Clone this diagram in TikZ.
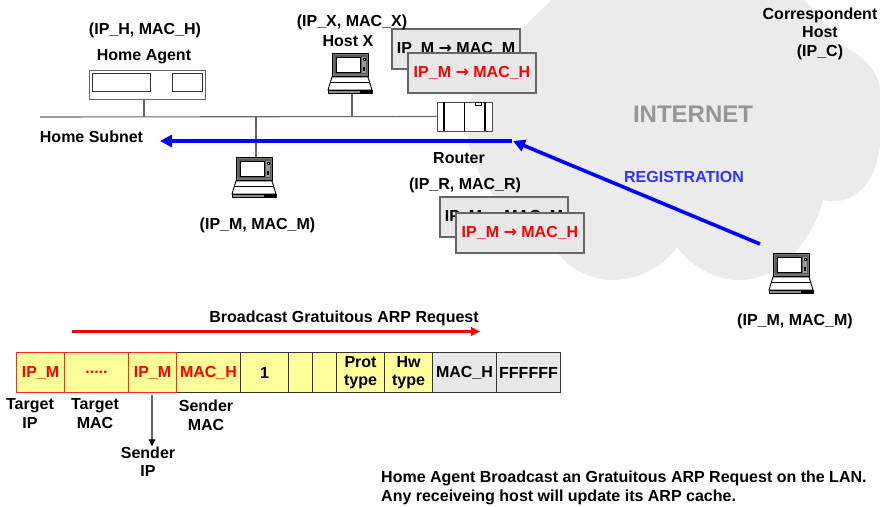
\documentclass[tikz,border=0pt]{standalone}
\usepackage{fontspec}
\setmainfont{Liberation Sans}[BoldFont={Liberation Sans Bold}]
\newfontfamily\arrowfont{DejaVu Sans}[BoldFont={DejaVu Sans Bold}]
\newcommand{\rarr}{{\arrowfont\bfseries →}}
\usetikzlibrary{arrows.meta}
\definecolor{cloudgrey}{HTML}{EBEBEB}
\definecolor{boxgrey}{HTML}{E8E8E8}
\definecolor{linegrey}{HTML}{666666}
\definecolor{cellyellow}{HTML}{FFFF99}
\definecolor{regblue}{HTML}{3333FF}
\definecolor{inetgrey}{HTML}{969696}
\tikzset{
  x=1pt,y=-1pt,
  lbl/.style={inner sep=0pt,yshift=-1.5pt,font=\fontsize{16}{18.5}\selectfont\bfseries,align=center,text=black},
  tablebox/.style={draw=linegrey,line width=1.1pt,fill=boxgrey,minimum width=128pt,minimum height=40pt,inner sep=0pt,font=\fontsize{16}{18}\selectfont\bfseries},
  cell/.style={draw=black!80,line width=1pt,fill=cellyellow,minimum height=40pt,inner sep=0pt,anchor=north west,align=center,font=\fontsize{16}{18.5}\selectfont\bfseries},
  redcell/.style={cell,draw=red!85!white,text=red},
  greycell/.style={cell,fill=boxgrey},
  net/.style={draw=linegrey,line width=1.1pt},
  blueline/.style={draw=blue,line width=3.6pt,-{Triangle[length=12pt,width=12pt]}},
  device/.style={draw=linegrey,line width=1pt,fill=white},
  lap/.pic={
    \fill[white] (0,0) rectangle (36,26);
    \draw[black,line width=.8pt,fill=black!55] (0,0) rectangle (36,23);
    \fill[black!65] (2,2) rectangle (35,21);
    \draw[fill=white,draw=black,line width=.5pt] (4,4) rectangle (28,19);
    \fill[black!40] (29.5,4) rectangle (34,20);
    \fill[black] (31,14) rectangle (33,18);
    \draw[fill=white,line width=.4pt] (31,5) rectangle (33,7);
    \draw[fill=white,draw=black,line width=.9pt] (0,24) -- (36,24) -- (40,37) -- (-4,37) -- cycle;
    \draw[black,line width=.7pt] (-1,29) -- (37,29);
    \fill[black!45] (-4,37) rectangle (40,40.5);
    \fill[black] (28,37) rectangle (40,40.5);
    \draw[black,line width=.6pt] (-4,37) rectangle (40,40.5);
  }
}
\begin{document}
\begin{tikzpicture}
\useasboundingbox (0,0) rectangle (880,506);
\begin{scope}
\clip (0,0) rectangle (880,506);
\fill[cloudgrey] (556,-4)
  .. controls (520,30) and (478,70) .. (470,100)
  .. controls (462,130) and (470,165) .. (490,190)
  .. controls (505,215) and (535,245) .. (560,255)
  .. controls (570,270) and (595,281) .. (613,280)
  .. controls (640,280) and (665,265) .. (677,247)
  .. controls (690,265) and (715,281) .. (740,280)
  .. controls (765,280) and (785,265) .. (797,250)
  .. controls (810,235) and (820,215) .. (823,200)
  .. controls (835,204) and (855,200) .. (867,183)
  .. controls (882,165) and (886,110) .. (880,87)
  .. controls (877,70) and (860,52) .. (840,45)
  .. controls (832,30) and (815,10) .. (800,-4)
  -- cycle;
\end{scope}
\coordinate (lineL) at (40,117);
\coordinate (tapH) at (144,117);
\coordinate (tapM) at (256,117);
\coordinate (tapX) at (352,117);
\coordinate (lapMtop) at (256,157);
\coordinate (lapXbot) at (352,94);
\node[device,minimum width=116pt,minimum height=29pt,inner sep=0pt] (ha) at (147,84.5) {};
\draw[device,line width=.8pt,draw=black!80] (92.5,73.5) rectangle (150.5,91.5);
\draw[device,line width=.8pt,draw=black!80] (172.5,73.5) rectangle (202,91.5);
\node[draw=black!70,fill=white,line width=.7pt,minimum width=55pt,minimum height=29pt,inner sep=0pt] (router) at (464.5,116.5) {};
\draw[line width=1.5pt] (444,102) -- (444,131);
\draw[line width=1.5pt] (485,102) -- (485,131);
\draw[line width=.6pt] (464.5,102) -- (464.5,131);
\draw[black,line width=.5pt] (475.5,102) rectangle (481,105.5);
\draw[net] (lineL) -- (router.west);
\draw[net] (ha.south -| tapH) -- (tapH);
\draw[net] (tapM) -- (lapMtop);
\draw[net] (lapXbot) -- (tapX);
\pic at (236,157) {lap};
\pic at (332,53) {lap};
\pic at (773,253) {lap};
\node[tablebox,text=black] (b1) at (456,49) {IP\_M \rarr{} MAC\_M};
\node[tablebox,text=red] (b2) at (472,73) {IP\_M \rarr{} MAC\_H};
\node[tablebox,text=black] (b3) at (504,217) {IP\_M \rarr{} MAC\_M};
\node[tablebox,text=red] (b4) at (520,233) {IP\_M \rarr{} MAC\_H};
\coordinate (blueEnd) at (160,141);
\coordinate (blueStart) at (512,141);
\coordinate (regStart) at (760,244);
\coordinate (regEnd) at (513,141);
\draw[blueline] (blueStart) -- (blueEnd);
\draw[blueline] (regStart) -- (regEnd);
\node[lbl] (t1) at (145,29) {(IP\_H, MAC\_H)};
\node[lbl] (t2) at (144,55) {Home Agent};
\node[lbl] (t3) at (91.5,135.5) {Home Subnet};
\node[lbl] (t4) at (257.5,224) {(IP\_M, MAC\_M)};
\node[lbl] (t5) at (352,21) {(IP\_X, MAC\_X)};
\node[lbl] (t6) at (348,39.5) {Host X};
\node[lbl] (t7) at (459,156.5) {Router};
\node[lbl] (t8) at (465,184) {(IP\_R, MAC\_R)};
\node[lbl] (t9) at (820,32) {Correspondent\\Host\\(IP\_C)};
\node[lbl,text=inetgrey,font=\fontsize{24}{28}\selectfont\bfseries] (t10) at (693,113) {INTERNET};
\node[lbl,text=regblue] (t11) at (684,175) {REGISTRATION};
\node[lbl] (t12) at (795,320) {(IP\_M, MAC\_M)};
\node[lbl] (t13) at (344,316.5) {Broadcast Gratuitous ARP Request};
\coordinate (redA) at (72,331.5);
\coordinate (redB) at (480,331.5);
\draw[red,line width=2.4pt,-{Triangle[length=9pt,width=8.5pt]}] (redA) -- (redB);
\node[redcell,minimum width=48pt] (c1) at (16,352) {IP\_M};
\node[redcell,minimum width=64pt] (c2) at (64,352) {.....};
\node[redcell,minimum width=48pt] (c3) at (128,352) {IP\_M};
\node[cell,minimum width=64pt,text=red] (c4) at (176,352) {MAC\_H};
\node[cell,minimum width=48pt] (c5) at (240,352) {1};
\node[cell,minimum width=24pt] (c6) at (288,352) {};
\node[cell,minimum width=24pt] (c7) at (312,352) {};
\node[cell,minimum width=48pt] (c8) at (336,352) {Prot\\type};
\node[cell,minimum width=48pt] (c9) at (384,352) {Hw\\type};
\node[greycell,minimum width=64pt] (c10) at (432,352) {MAC\_H};
\node[greycell,minimum width=64pt] (c11) at (496,352) {FFFFFF};
\draw[red!85!white,line width=1pt] (c4.north west) -- (c4.south west);
\node[lbl] (l1) at (30,412) {Target\\IP};
\node[lbl] (l2) at (95,412) {Target\\MAC};
\node[lbl] (l3) at (206,414) {Sender\\MAC};
\node[lbl] (l4) at (148,460) {Sender\\IP};
\coordinate (a3) at (152,395);
\draw[draw=linegrey,line width=1.1pt,-{Triangle[length=7pt,width=7pt,color=black]}] (a3) -- (l4.north -| a3);
\node[lbl,yshift=1.5pt,align=left,anchor=north west] (note) at (381,471) {Home Agent Broadcast an Gratuitous ARP Request on the LAN.\\Any receiveing host will update its ARP cache.};
\end{tikzpicture}
\end{document}
